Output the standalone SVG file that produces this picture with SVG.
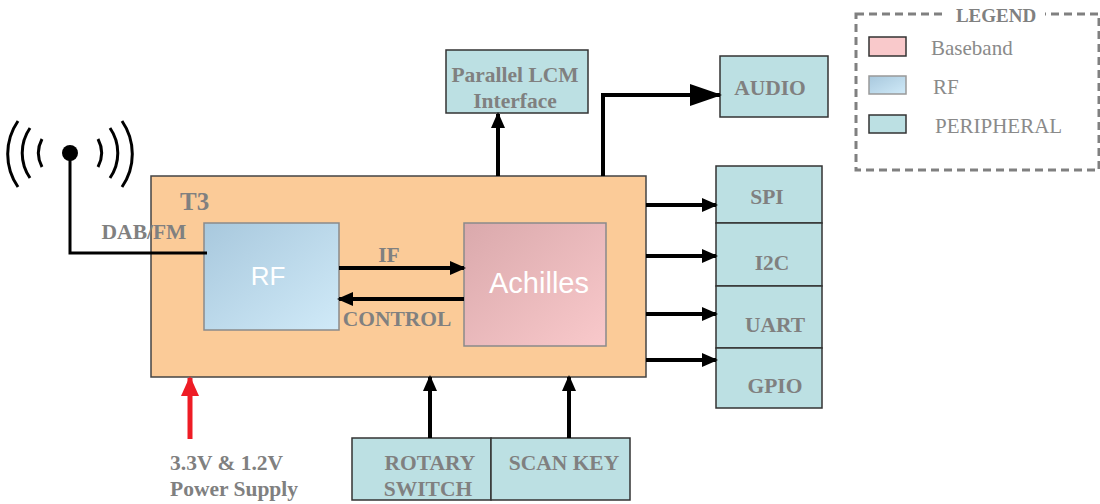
<svg xmlns="http://www.w3.org/2000/svg" width="1100" height="504" viewBox="0 0 1100 504">
<style>
.lbl{font-family:"Liberation Serif",serif;font-weight:bold;fill:#808080;font-size:21.5px;text-anchor:middle}
.leg{font-family:"Liberation Serif",serif;fill:#8a8a8a;font-size:21px}
.per{fill:#BCE0E3;stroke:#333;stroke-width:1.5}
.wire{stroke:#000;stroke-width:4;fill:none}
.wt{font-family:"Liberation Sans",Arial,sans-serif;fill:#fff;text-anchor:middle}
</style>
<defs>
<linearGradient id="grf" x1="0" y1="0" x2="1" y2="1"><stop offset="0" stop-color="#A8C8DD"/><stop offset="1" stop-color="#D0EAF8"/></linearGradient>
<linearGradient id="gbb" x1="0" y1="0" x2="1" y2="1"><stop offset="0" stop-color="#DAA9AC"/><stop offset="1" stop-color="#F9C9CB"/></linearGradient>
<marker id="ah" markerUnits="userSpaceOnUse" markerWidth="16" markerHeight="16" refX="14" refY="8" orient="auto"><path d="M0,1 L16,8 L0,15 Z" fill="#000"/></marker>
<marker id="ahb" markerUnits="userSpaceOnUse" markerWidth="32" markerHeight="24" refX="30" refY="12" orient="auto"><path d="M0,1 L32,12 L0,23 Z" fill="#000"/></marker>
<marker id="ahr" markerUnits="userSpaceOnUse" markerWidth="20" markerHeight="20" refX="18" refY="10" orient="auto"><path d="M0,1 L20,10 L0,19 Z" fill="#EE1C25"/></marker>
</defs>

<g id="legend">
<rect x="856" y="14" width="243" height="156" fill="none" stroke="#808080" stroke-width="3" stroke-dasharray="8,5"/>
<rect x="947" y="5" width="98" height="18" fill="#fff"/>
<text x="996" y="22" class="lbl" style="font-size:19px">LEGEND</text>
<rect x="869" y="37" width="37" height="19" fill="#F9C9CB" stroke="#333" stroke-width="1.5"/>
<text x="931" y="55" class="leg">Baseband</text>
<rect x="869" y="76" width="37" height="18" fill="url(#grf)" stroke="#999" stroke-width="1.5"/>
<text x="933" y="94" class="leg">RF</text>
<rect x="869" y="115" width="37" height="18" fill="#BCE0E3" stroke="#333" stroke-width="1.5"/>
<text x="935" y="133" class="leg">PERIPHERAL</text>
</g>

<g id="antenna" fill="none" stroke="#000" stroke-width="3">
<path d="M42,139 A30,30 0 0 0 42,167"/>
<path d="M98,139 A30,30 0 0 1 98,167"/>
<path d="M30,128 A44,44 0 0 0 30,178"/>
<path d="M110,128 A44,44 0 0 1 110,178"/>
<path d="M18,121 A58,58 0 0 0 18,187"/>
<path d="M122,121 A58,58 0 0 1 122,187"/>
<circle cx="70" cy="153" r="8" fill="#000" stroke="none"/>
</g>

<g id="t3">
<rect x="151" y="176" width="495" height="201" fill="#FBCB98" stroke="#444" stroke-width="1.5"/>
<text x="180" y="210" class="lbl" style="font-size:25px;text-anchor:start">T3</text>
</g>

<g id="rf">
<rect x="204" y="223" width="135" height="107" fill="url(#grf)" stroke="#8a8a8a" stroke-width="1.5"/>
<text x="268" y="285" class="wt" style="font-size:26px">RF</text>
</g>

<g id="achilles">
<rect x="464" y="223" width="142" height="123" fill="url(#gbb)" stroke="#8a8a8a" stroke-width="1.5"/>
<text x="539" y="293" class="wt" style="font-size:29px">Achilles</text>
</g>

<g id="lcm">
<rect x="446" y="50" width="142" height="63" class="per"/>
<text x="515" y="82" class="lbl">Parallel LCM</text>
<text x="515" y="108" class="lbl">Interface</text>
</g>

<g id="audio">
<rect x="720" y="56" width="108" height="61" class="per"/>
<text x="770" y="95" class="lbl">AUDIO</text>
</g>

<g id="spi"><rect x="716" y="166" width="106" height="57" class="per"/><text x="767" y="204" class="lbl">SPI</text></g>
<g id="i2c"><rect x="716" y="223" width="106" height="63" class="per"/><text x="772" y="270" class="lbl">I2C</text></g>
<g id="uart"><rect x="716" y="286" width="106" height="62" class="per"/><text x="775" y="332" class="lbl">UART</text></g>
<g id="gpio"><rect x="716" y="348" width="106" height="60" class="per"/><text x="775" y="393" class="lbl">GPIO</text></g>

<g id="rotary">
<rect x="352" y="438" width="139" height="62" class="per"/>
<text x="430" y="470" class="lbl">ROTARY</text>
<text x="428" y="496" class="lbl">SWITCH</text>
</g>
<g id="scankey">
<rect x="491" y="438" width="139" height="62" class="per"/>
<text x="564" y="470" class="lbl">SCAN KEY</text>
</g>

<g id="power">
<text x="170" y="470" class="lbl" style="text-anchor:start">3.3V &amp; 1.2V</text>
<text x="170" y="496" class="lbl" style="text-anchor:start">Power Supply</text>
</g>

<g id="connectors">
<path d="M70,153 V253 H207" fill="none" stroke="#000" stroke-width="3"/>
<text x="144" y="239" class="lbl">DAB/FM</text>
<line x1="339" y1="268" x2="464" y2="268" class="wire" marker-end="url(#ah)"/>
<text x="389" y="262" class="lbl">IF</text>
<line x1="464" y1="299" x2="339" y2="299" class="wire" marker-end="url(#ah)"/>
<text x="397" y="326" class="lbl">CONTROL</text>
<line x1="498" y1="176" x2="498" y2="114" class="wire" marker-end="url(#ah)"/>
<path d="M603,176 V95 H720" class="wire" marker-end="url(#ahb)"/>
<line x1="646" y1="205" x2="716" y2="205" class="wire" marker-end="url(#ah)"/>
<line x1="646" y1="256" x2="716" y2="256" class="wire" marker-end="url(#ah)"/>
<line x1="646" y1="314" x2="716" y2="314" class="wire" marker-end="url(#ah)"/>
<line x1="646" y1="360" x2="716" y2="360" class="wire" marker-end="url(#ah)"/>
<line x1="430" y1="438" x2="430" y2="377" class="wire" marker-end="url(#ah)"/>
<line x1="569" y1="438" x2="569" y2="377" class="wire" marker-end="url(#ah)"/>
<line x1="190" y1="439" x2="190" y2="378" stroke="#EE1C25" stroke-width="5" marker-end="url(#ahr)"/>
</g>
</svg>
